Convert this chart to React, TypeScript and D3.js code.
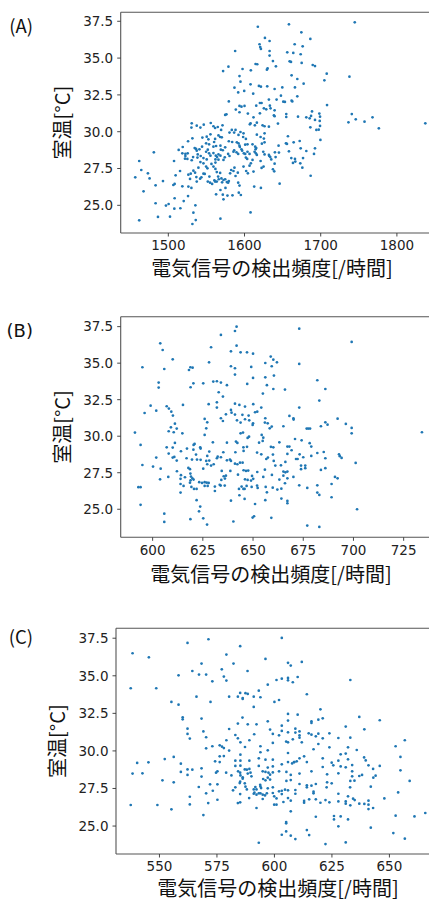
import React from 'react';
import * as d3 from 'd3';

// Panel A: [detection frequency (/h), room temperature (°C)]
const aPoints: [number, number][] = [
[1617.5,37.13],[1658.3,37.29],[1744.7,37.43],[1674.6,36.75],[1626.8,36.37],[1632.9,36.16],[1686.4,36.30],[1665.8,35.94],[1676.3,35.80],[1619.7,35.94],
[1620.6,35.75],[1621.5,35.62],[1587.7,35.48],[1632.9,35.48],[1632.9,35.17],[1656.1,35.39],[1664.0,35.35],[1673.7,35.26],[1637.3,34.80],[1659.2,34.78],
[1661.0,34.74],[1614.5,34.60],[1616.7,34.58],[1641.2,34.44],[1675.0,34.67],[1689.5,34.53],[1692.5,34.46],[1578.9,34.42],[1571.9,34.12],[1597.4,34.26],
[1608.3,34.17],[1630.3,34.30],[1629.4,34.21],[1707.9,33.94],[1704.8,33.49],[1737.7,33.74],[1593.4,33.78],[1594.7,33.40],[1661.8,33.83],[1669.3,33.58],
[1677.6,33.26],[1586.8,32.99],[1591.7,32.67],[1607.9,33.22],[1611.4,32.58],[1618.9,33.11],[1621.5,33.06],[1629.8,33.08],[1639.5,32.90],[1649.6,33.01],
[1666.2,33.01],[1599.6,32.77],[1647.8,32.45],[1669.3,32.40],[1579.4,32.06],[1593.4,31.75],[1596.0,31.70],[1600.0,31.75],[1620.2,31.95],[1622.4,31.95],
[1633.3,31.77],[1650.9,32.04],[1653.0,32.02],[1661.8,32.11],[1662.7,32.06],[1632.0,32.18],[1642.1,32.18],[1615.4,31.77],[1588.6,31.50],[1593.4,31.32],
[1625.4,31.59],[1634.2,31.59],[1639.5,31.45],[1628.5,31.52],[1708.3,31.81],[1688.6,31.38],[1687.3,31.07],[1698.2,31.23],[1699.1,31.02],[1576.3,31.18],
[1574.6,31.14],[1604.4,31.23],[1620.2,31.25],[1654.8,31.20],[1654.8,31.00],[1638.6,31.11],[1639.5,31.05],[1670.2,31.02],[1611.8,30.98],[1616.2,30.61],
[1607.9,30.57],[1607.0,30.50],[1613.6,30.43],[1623.7,30.43],[1626.3,30.37],[1632.0,30.34],[1643.9,30.55],[1685.5,30.91],[1692.5,30.80],[1698.7,30.73],
[1681.1,30.98],[1740.8,31.20],[1746.0,30.84],[1736.4,30.64],[1757.5,30.68],[1768.0,30.98],[1776.3,30.23],[1837.3,30.57],[1699.1,30.39],[1697.4,30.14],
[1686.4,30.30],[1694.3,30.12],[1530.7,30.57],[1537.3,30.41],[1546.5,30.48],[1555.7,30.59],[1530.3,30.28],[1542.1,30.28],[1559.2,30.37],[1561.4,30.25],
[1564.9,30.32],[1571.1,30.43],[1569.3,30.12],[1583.3,30.12],[1586.4,29.94],[1588.2,30.12],[1594.7,29.98],[1592.1,29.78],[1616.2,29.80],[1626.3,29.89],
[1621.1,29.64],[1625.4,29.53],[1598.7,29.89],[1598.2,29.64],[1601.8,29.51],[1565.8,29.75],[1568.0,29.64],[1570.2,29.62],[1561.4,29.51],[1560.1,29.30],
[1555.3,29.82],[1550.4,29.66],[1552.6,29.48],[1544.7,29.60],[1531.6,29.55],[1518.9,28.96],[1525.9,29.35],[1657.0,29.69],[1654.4,29.21],[1655.7,29.17],
[1664.5,29.28],[1672.4,29.37],[1699.6,29.44],[1579.4,29.35],[1583.8,29.30],[1589.9,29.28],[1592.1,29.21],[1593.4,29.05],[1600.9,29.12],[1603.9,29.14],
[1610.5,29.14],[1614.0,28.98],[1615.4,28.89],[1622.8,29.19],[1626.3,29.28],[1549.6,29.21],[1553.5,29.14],[1559.2,28.98],[1562.7,29.03],[1544.3,28.98],
[1534.6,28.89],[1536.4,28.83],[1537.3,28.71],[1513.6,28.76],[1518.4,28.53],[1522.4,28.35],[1522.4,28.49],[1521.9,28.17],[1525.0,28.15],[1530.7,28.06],
[1532.5,28.28],[1538.6,28.46],[1542.1,27.94],[1546.1,28.21],[1549.6,28.64],[1551.8,28.78],[1553.5,28.53],[1555.3,28.37],[1559.2,28.55],[1562.3,28.37],
[1564.0,28.28],[1565.8,28.46],[1561.8,28.12],[1565.8,28.10],[1568.4,28.37],[1571.5,28.74],[1578.5,28.49],[1580.3,28.35],[1574.1,28.26],[1572.4,28.08],
[1585.5,28.64],[1586.4,28.74],[1589.5,28.60],[1591.7,28.49],[1593.9,28.96],[1596.0,28.80],[1596.9,28.71],[1599.1,28.53],[1600.9,28.49],[1603.9,28.64],
[1606.6,28.49],[1601.8,28.24],[1603.5,28.15],[1613.2,28.64],[1614.9,28.53],[1616.2,28.42],[1614.5,28.80],[1624.6,28.64],[1626.3,28.46],[1632.0,28.42],
[1632.5,28.35],[1633.8,28.28],[1639.9,28.60],[1640.8,28.28],[1635.1,28.12],[1639.5,27.83],[1644.7,29.05],[1645.2,28.58],[1658.3,28.67],[1661.4,28.21],
[1666.2,28.15],[1663.6,27.88],[1666.7,27.97],[1676.8,28.21],[1673.2,27.85],[1675.9,27.56],[1681.1,28.69],[1673.7,28.87],[1692.5,28.87],[1691.2,28.49],
[1461.8,28.01],[1456.6,26.90],[1464.5,27.40],[1473.2,27.17],[1475.4,26.83],[1467.5,25.95],[1483.3,26.36],[1493.0,26.65],[1481.0,28.60],[1461.8,23.98],
[1483.3,25.14],[1486.4,24.21],[1496.9,24.98],[1500.4,25.09],[1502.2,24.23],[1508.3,25.48],[1507.9,24.77],[1515.8,24.80],[1520.2,25.29],[1525.9,25.63],
[1532.9,24.50],[1535.5,25.00],[1536.0,24.00],[1531.6,23.73],[1568.4,24.09],[1507.5,28.01],[1515.4,27.33],[1506.6,26.38],[1508.3,26.45],[1509.6,27.04],
[1518.4,26.29],[1526.3,26.27],[1526.3,27.08],[1529.4,27.15],[1528.5,26.79],[1530.3,26.18],[1532.9,27.35],[1535.1,27.22],[1536.8,26.92],[1537.3,26.61],
[1541.7,26.81],[1543.4,26.90],[1546.1,27.15],[1547.8,27.13],[1539.5,27.56],[1546.1,27.85],[1550.4,28.12],[1549.6,27.63],[1551.3,27.51],[1556.6,27.81],
[1559.2,27.63],[1561.8,27.90],[1561.8,27.47],[1563.6,27.26],[1565.4,26.95],[1566.2,26.77],[1553.9,26.95],[1551.8,26.61],[1554.8,26.54],[1557.5,26.45],
[1560.5,26.70],[1561.4,26.61],[1563.6,26.61],[1568.0,27.20],[1569.7,26.83],[1570.6,26.56],[1572.4,26.72],[1574.6,26.77],[1576.8,26.58],[1578.5,26.54],
[1579.4,26.65],[1581.1,27.17],[1582.5,27.40],[1585.5,27.33],[1586.8,27.56],[1588.2,26.99],[1591.2,27.22],[1591.7,26.54],[1593.4,26.34],[1592.5,25.86],
[1595.2,25.70],[1598.7,27.63],[1602.2,27.33],[1604.4,27.17],[1606.6,27.69],[1608.3,27.85],[1610.5,28.08],[1611.8,27.29],[1612.7,26.27],[1562.7,25.75],
[1568.4,26.04],[1571.5,25.72],[1572.4,25.41],[1577.6,25.66],[1584.2,25.68],[1575.0,26.18],[1607.9,24.52],[1621.5,26.18],[1622.4,27.54],[1625.0,27.63],
[1621.1,28.01],[1637.3,27.45],[1639.0,27.31],[1646.1,26.47],[1686.8,27.01],[1525.4,28.53],[1538.2,28.24],[1542.5,28.35],[1540.8,28.80],[1568.9,28.78],
[1574.6,28.94],[1568.4,29.05],[1580.3,29.94]
];

// Panel B
const bPoints: [number, number][] = [
[641.8,37.50],[641.0,37.20],[634.0,36.93],[603.8,36.36],[605.0,35.90],[641.8,36.20],[629.1,36.09],[639.0,35.81],[643.8,35.74],[647.0,35.74],
[650.0,35.65],[610.0,35.26],[628.1,35.06],[658.8,35.45],[660.1,35.24],[656.1,35.01],[594.9,34.72],[605.8,34.60],[618.1,34.53],[618.8,34.72],
[619.9,34.69],[639.0,34.79],[641.0,34.65],[649.1,34.74],[641.0,34.22],[659.3,34.79],[656.1,34.03],[650.0,33.99],[660.4,34.15],[603.0,33.67],
[603.0,33.33],[620.3,33.62],[618.9,33.35],[625.2,33.62],[630.2,33.74],[632.0,33.76],[634.0,33.67],[637.0,33.49],[647.1,33.58],[656.9,33.49],
[660.1,33.23],[632.9,33.01],[635.0,32.71],[654.9,32.92],[599.0,32.09],[596.0,31.59],[601.8,31.75],[607.0,32.05],[608.1,31.89],[609.3,31.68],
[610.1,31.41],[615.1,32.14],[627.9,32.19],[632.0,32.32],[632.0,31.96],[641.0,32.23],[643.2,32.14],[646.0,32.03],[650.1,32.19],[639.0,31.80],
[639.3,31.61],[641.0,31.48],[644.7,31.46],[647.8,31.41],[651.0,31.64],[652.1,31.68],[654.1,31.96],[636.5,31.50],[634.0,31.23],[635.0,31.04],
[642.0,31.09],[643.8,30.93],[646.0,31.16],[648.1,31.09],[650.0,30.88],[649.8,30.77],[656.1,31.23],[655.9,30.93],[657.3,30.88],[658.3,30.54],
[659.3,30.66],[625.9,31.18],[627.2,30.95],[626.7,30.54],[625.9,30.09],[611.1,30.86],[612.0,30.52],[609.1,30.61],[608.0,30.34],[610.5,30.27],
[614.8,30.20],[591.2,30.25],[594.0,29.40],[607.0,29.24],[611.1,29.54],[610.0,29.22],[608.0,28.81],[610.8,28.58],[610.0,28.54],[612.0,28.33],
[614.1,28.97],[617.1,29.15],[620.4,29.40],[620.9,29.47],[620.3,29.08],[623.7,29.24],[623.9,29.15],[621.6,28.74],[622.1,28.40],[623.9,28.38],
[628.2,28.95],[627.2,28.65],[626.7,28.31],[628.2,28.33],[630.0,29.58],[637.0,29.56],[641.5,29.63],[642.2,29.54],[641.2,28.90],[645.3,28.99],
[645.2,29.24],[647.0,29.27],[643.8,30.20],[645.0,30.25],[648.0,29.97],[647.3,29.88],[632.4,28.60],[632.0,28.49],[634.0,28.56],[637.0,28.35],
[638.5,28.40],[639.0,28.31],[635.2,28.90],[653.0,29.56],[654.8,29.68],[655.1,29.90],[654.3,30.09],[652.0,28.88],[654.1,28.76],[656.6,28.44],
[657.4,28.54],[659.9,28.74],[660.3,28.31],[658.9,29.27],[660.1,29.24],[616.9,28.49],[619.6,28.40],[594.9,28.03],[600.2,27.92],[601.8,28.54],
[604.0,27.78],[607.8,27.21],[612.1,27.60],[614.1,27.33],[613.9,27.08],[616.1,27.19],[618.8,27.44],[618.6,27.74],[617.8,27.83],[619.1,27.24],
[619.8,27.12],[618.9,26.98],[618.6,26.82],[620.4,27.03],[623.2,26.85],[624.6,26.80],[625.9,26.85],[626.9,26.82],[627.9,26.80],[627.4,26.60],
[625.2,27.78],[627.2,28.08],[629.1,27.99],[630.4,28.08],[634.4,27.62],[635.4,27.26],[636.5,27.30],[636.0,27.10],[634.2,27.01],[638.7,27.62],
[641.0,28.12],[642.2,28.08],[643.5,28.19],[644.8,28.19],[642.5,27.37],[645.3,27.67],[646.5,27.62],[647.6,27.65],[649.5,27.28],[650.1,27.08],
[649.0,26.96],[652.1,27.55],[655.1,27.21],[655.9,27.71],[659.4,27.35],[646.0,27.05],[647.3,27.01],[603.7,27.05],[592.9,26.51],[594.0,26.51],
[613.9,26.73],[615.4,26.60],[619.3,26.53],[620.6,26.39],[621.9,26.39],[625.9,26.60],[631.0,26.55],[631.0,26.25],[633.4,26.67],[633.9,26.62],
[635.9,26.62],[643.0,26.39],[644.3,26.55],[645.2,26.39],[645.8,26.39],[646.8,26.60],[649.3,26.53],[652.0,26.62],[652.3,26.46],[656.3,26.53],
[656.9,26.16],[659.8,26.48],[613.9,26.14],[643.2,25.96],[645.8,25.71],[639.0,25.59],[621.9,25.62],[623.1,24.86],[623.7,25.18],[594.0,25.30],
[605.8,24.70],[605.8,24.13],[618.8,24.32],[625.2,24.38],[627.1,23.95],[640.2,24.16],[651.0,25.36],[650.5,24.52],[649.8,24.43],[656.1,25.62],
[659.1,24.41],[661.1,27.99],[673.0,37.36],[699.1,36.45],[661.9,35.06],[673.0,34.95],[682.0,33.83],[665.9,33.19],[686.0,33.23],[683.0,32.44],
[673.0,31.96],[668.1,31.39],[670.1,31.23],[670.2,31.14],[692.1,31.20],[686.0,30.95],[687.1,30.79],[683.8,30.68],[696.2,30.84],[699.1,30.57],
[699.1,30.20],[665.1,30.68],[676.7,30.52],[677.5,30.52],[678.4,30.52],[734.1,30.27],[670.9,29.81],[674.2,29.72],[663.1,29.58],[678.2,29.52],
[679.0,29.29],[667.1,29.29],[668.1,29.29],[669.2,29.04],[667.1,28.79],[673.2,28.76],[675.0,28.56],[671.4,28.44],[672.2,28.44],[679.0,28.65],
[682.0,28.85],[685.2,28.92],[686.0,28.49],[692.8,28.76],[693.2,28.63],[694.1,28.51],[663.9,28.01],[666.1,28.24],[673.9,27.99],[673.9,27.74],
[676.0,27.99],[676.0,27.81],[683.8,27.69],[686.0,27.81],[701.1,28.17],[665.1,27.58],[666.1,27.53],[667.1,27.58],[663.1,27.03],[665.1,27.30],
[667.1,27.12],[670.1,27.21],[690.8,27.21],[692.1,27.12],[665.9,26.78],[673.0,26.64],[682.0,26.64],[689.1,26.73],[662.1,26.35],[664.1,26.41],
[677.0,26.46],[682.0,26.14],[683.0,25.98],[689.1,25.82],[664.1,25.73],[667.1,25.57],[667.1,25.41],[701.8,25.00],[677.0,23.88],[683.0,23.79]
];

// Panel C
const cPoints: [number, number][] = [
[571.3,37.43],[562.2,37.19],[538.3,36.50],[545.4,36.23],[585.1,36.97],[579.1,36.41],[596.1,36.12],[568.3,35.81],[582.2,35.81],[577.1,35.43],
[564.3,35.32],[567.2,35.08],[570.3,35.08],[588.3,35.32],[558.3,35.03],[578.0,34.95],[579.1,34.68],[573.0,34.63],[597.1,34.41],[537.5,34.17],
[548.6,34.17],[593.2,34.01],[585.1,33.86],[587.4,33.84],[588.4,33.79],[584.1,33.61],[586.2,33.52],[586.2,33.46],[591.0,33.61],[593.9,33.57],
[580.3,33.61],[566.1,33.61],[555.2,33.26],[558.3,33.08],[572.2,33.26],[591.0,32.93],[560.1,32.24],[560.1,32.10],[568.3,32.15],[586.1,32.22],
[584.1,31.82],[588.4,31.77],[592.2,31.77],[597.1,31.97],[562.2,31.48],[562.2,31.13],[563.2,30.82],[569.1,31.30],[580.3,31.46],[570.3,30.91],
[583.0,31.06],[584.1,30.84],[591.2,31.11],[579.1,30.71],[585.2,30.57],[589.1,30.71],[570.3,30.17],[573.0,30.31],[576.2,30.37],[577.2,30.28],
[578.0,30.19],[580.3,30.02],[587.2,30.26],[593.9,30.31],[597.1,30.04],[593.9,29.91],[585.2,29.75],[576.2,29.64],[578.0,29.66],[574.2,29.31],
[576.2,29.26],[583.0,29.35],[585.2,29.35],[589.1,29.35],[593.2,29.51],[596.1,29.42],[583.0,29.00],[585.2,29.02],[587.1,28.77],[588.0,28.75],
[589.1,28.80],[593.2,29.00],[597.1,28.89],[594.9,28.64],[596.1,28.60],[597.4,28.55],[597.1,28.22],[574.6,28.55],[575.2,28.64],[579.0,28.55],
[581.3,28.37],[584.2,28.64],[585.1,28.55],[585.2,28.37],[586.2,28.24],[586.2,28.15],[588.4,28.49],[590.0,28.31],[589.6,28.55],[585.1,27.95],
[584.9,27.86],[583.0,27.58],[582.0,27.38],[587.1,27.84],[587.4,27.62],[588.0,27.44],[591.0,27.44],[591.3,27.22],[591.7,27.60],[592.2,27.44],
[593.8,27.75],[593.9,27.64],[594.2,27.53],[595.1,28.13],[596.1,28.04],[585.1,27.13],[589.0,26.86],[584.1,26.53],[585.1,26.58],[591.0,27.15],
[592.2,27.09],[593.2,27.18],[593.9,27.18],[594.9,27.09],[594.9,26.80],[595.9,27.04],[596.7,27.18],[597.1,27.51],[592.2,26.20],[593.2,23.89],
[540.3,29.20],[545.2,29.24],[538.3,28.49],[542.6,28.51],[552.3,29.46],[556.2,29.60],[559.3,29.15],[559.3,28.60],[562.2,28.77],[564.3,28.75],
[562.2,28.40],[568.3,28.84],[568.3,28.29],[551.3,28.04],[556.2,27.91],[567.1,27.60],[572.0,27.78],[575.2,27.78],[573.2,27.35],[570.3,27.18],
[563.2,26.95],[563.2,26.44],[571.2,26.53],[575.2,26.75],[537.5,26.40],[549.1,26.40],[555.2,26.11],[569.1,25.73],
[603.2,37.52],[605.9,35.86],[607.1,35.68],[611.9,35.92],[600.9,34.72],[603.2,34.81],[605.9,34.86],[605.9,34.70],[608.0,34.57],[610.1,34.92],
[633.0,34.72],[614.1,33.77],[600.0,33.26],[602.0,33.39],[620.0,32.77],[605.9,32.46],[610.1,32.41],[605.9,32.02],[603.2,31.68],[603.2,31.33],
[616.1,31.97],[616.1,31.86],[619.1,32.08],[621.0,32.17],[636.9,32.26],[645.8,32.04],[631.0,31.62],[639.1,31.44],[598.1,31.42],[599.3,31.13],
[602.0,31.04],[605.9,31.24],[609.1,31.48],[609.1,31.22],[610.9,31.30],[610.9,31.04],[610.9,30.88],[614.9,31.17],[616.1,31.08],[619.1,31.15],
[618.0,30.97],[623.9,31.17],[621.0,30.84],[605.1,30.62],[605.9,30.57],[608.0,30.77],[611.9,30.57],[627.8,30.86],[633.0,30.88],[599.3,30.53],
[619.1,30.46],[617.0,30.11],[623.9,30.24],[632.0,30.24],[635.8,30.06],[605.9,29.86],[612.9,29.64],[610.9,29.51],[608.5,29.26],[652.7,30.31],
[656.7,30.71],[654.8,29.60],[654.8,28.71],[658.8,28.00],[653.8,27.24],[599.3,29.42],[603.2,29.11],[605.9,29.26],[607.7,29.17],[608.7,29.26],
[609.7,29.31],[614.1,29.26],[616.1,28.64],[621.0,29.51],[621.0,28.93],[624.9,29.22],[625.6,29.04],[627.8,29.35],[628.8,29.77],[631.0,29.82],
[632.0,29.44],[633.8,29.06],[628.8,28.97],[631.0,28.91],[639.0,29.57],[639.7,29.37],[640.9,29.04],[645.8,29.00],[642.9,28.80],[599.3,28.97],
[598.1,28.42],[599.3,28.57],[602.0,28.64],[605.2,28.60],[607.1,28.40],[607.1,28.06],[605.2,28.00],[610.9,28.49],[622.9,28.44],[627.8,28.51],
[633.8,28.64],[633.8,28.31],[633.0,28.00],[636.9,28.33],[638.1,28.40],[641.9,27.62],[643.0,28.22],[644.0,28.35],[598.1,28.09],[599.3,27.58],
[599.3,27.20],[599.9,26.98],[602.0,27.31],[603.2,27.35],[603.2,27.13],[604.6,27.42],[605.9,27.38],[605.9,26.86],[607.1,26.69],[609.1,27.40],
[609.1,27.15],[610.9,27.80],[614.1,27.71],[614.1,27.58],[616.1,27.69],[618.0,27.80],[622.9,27.91],[624.9,27.84],[622.7,27.58],[617.0,27.29],
[617.0,27.18],[600.9,26.84],[600.9,26.42],[599.9,26.42],[603.9,26.60],[612.9,26.67],[612.9,26.55],[615.1,26.78],[618.0,26.78],[620.0,26.55],
[622.2,26.73],[623.9,26.58],[627.8,27.15],[627.8,26.64],[631.0,26.64],[631.0,26.49],[632.0,26.98],[633.0,26.38],[632.9,27.58],[634.8,28.02],
[634.2,26.82],[634.9,26.73],[636.9,26.49],[639.1,26.47],[640.9,26.69],[640.9,26.42],[640.9,26.13],[642.9,26.20],[647.8,26.84],[607.1,25.98],
[605.1,25.27],[605.1,25.18],[618.0,25.62],[625.9,25.67],[625.9,25.44],[628.8,25.64],[632.0,25.44],[627.8,24.98],[641.9,24.89],[652.7,25.69],
[660.9,25.64],[665.6,25.87],[605.1,24.64],[603.2,24.42],[607.1,24.36],[609.1,24.13],[614.1,24.73],[615.1,24.40],[622.2,23.80],[631.0,23.91],
[651.7,24.53],[656.7,24.16]
];

const yTicks = [25.0, 27.5, 30.0, 32.5, 35.0, 37.5];
const aXTicks = [1500, 1600, 1700, 1800];
const bXTicks = [600, 625, 650, 675, 700, 725];
const cXTicks = [550, 575, 600, 625, 650];

const panelLabels = ['(A)', '(B)', '(C)'];
const xLabelText = '電気信号の検出頻度[/時間]';
const yLabelText = '室温[°C]';

const W = 429;
const H = 899;
const DOT = '#1f77b4';
const JP = '"Noto Sans CJK JP", "Noto Sans CJK SC", sans-serif';
const TICKFONT = '"DejaVu Sans", sans-serif';

interface PanelCfg {
  label: string;
  labelFont: string;
  labelSize: number;
  labelY: number;
  points: [number, number][];
  xTicks: number[];
  xDomain: [number, number];
  yDomain: [number, number];
  left: number;
  right: number;
  top: number;
  bottom: number;
  xLabelX: number;
  xLabelY: number;
  yLabelX: number;
}

const panels: PanelCfg[] = [
  { label: panelLabels[0], labelFont: JP, labelSize: 18.5, labelY: 32.5, points: aPoints, xTicks: aXTicks,
    xDomain: [1437.5, 1856.3], yDomain: [23.12, 38.11], left: 120.7, right: 439.8, top: 12.3, bottom: 233,
    xLabelX: 272, xLabelY: 276, yLabelX: 70 },
  { label: panelLabels[1], labelFont: TICKFONT, labelSize: 18, labelY: 336.5, points: bPoints, xTicks: bXTicks,
    xDomain: [584.1, 741.2], yDomain: [23.08, 38.18], left: 120.7, right: 436.2, top: 316.7, bottom: 537.3,
    xLabelX: 271, xLabelY: 581.5, yLabelX: 70 },
  { label: panelLabels[2], labelFont: JP, labelSize: 18.5, labelY: 643.5, points: cPoints, xTicks: cXTicks,
    xDomain: [531.1, 672.0], yDomain: [23.14, 38.16], left: 116, right: 440, top: 628.3, bottom: 854,
    xLabelX: 278, xLabelY: 895.5, yLabelX: 64.5 },
];

function Panel({ p }: { p: PanelCfg }) {
  const x = d3.scaleLinear().domain(p.xDomain).range([p.left, p.right]);
  const y = d3.scaleLinear().domain(p.yDomain).range([p.bottom, p.top]);
  const fmtY = d3.format('.1f');
  const midY = (p.top + p.bottom) / 2;
  const spine = '#555';
  return (
    <g>
      <text x={33} y={p.labelY} textAnchor="end" fontFamily={p.labelFont} fontSize={p.labelSize} fill="#111">{p.label}</text>
      {p.points.map((d, i) => (
        <circle key={i} cx={x(d[0])} cy={y(d[1])} r={1.35} fill={DOT} />
      ))}
      <line x1={p.left} x2={p.right} y1={p.top} y2={p.top} stroke={spine} strokeWidth={1.1} />
      <line x1={p.left} x2={p.right} y1={p.bottom} y2={p.bottom} stroke={spine} strokeWidth={1.1} />
      <line x1={p.left} x2={p.left} y1={p.top} y2={p.bottom} stroke={spine} strokeWidth={1.1} />
      <line x1={p.right} x2={p.right} y1={p.top} y2={p.bottom} stroke={spine} strokeWidth={1.1} />
      {yTicks.map((t) => (
        <g key={'y' + t}>
          <line x1={p.left - 3.5} x2={p.left} y1={y(t)} y2={y(t)} stroke="#333" strokeWidth={0.9} />
          <text x={p.left - 7.5} y={y(t)} dy="0.36em" textAnchor="end" fontFamily={TICKFONT} fontSize={13.5} fill="#222">{fmtY(t)}</text>
        </g>
      ))}
      {p.xTicks.map((t) => (
        <g key={'x' + t}>
          <line x1={x(t)} x2={x(t)} y1={p.bottom} y2={p.bottom + 3.5} stroke="#333" strokeWidth={0.9} />
          <text x={x(t)} y={p.bottom + 17.2} textAnchor="middle" fontFamily={TICKFONT} fontSize={13.5} fill="#222">{t}</text>
        </g>
      ))}
      <text x={p.xLabelX} y={p.xLabelY} textAnchor="middle" fontFamily={JP} fontSize={20} fill="#111">{xLabelText}</text>
      <text transform={`translate(${p.yLabelX},${midY}) rotate(-90)`} textAnchor="middle" fontFamily={JP} fontSize={20} fill="#111">{yLabelText}</text>
    </g>
  );
}

export default function App() {
  return (
    <svg width={W} height={H} viewBox={`0 0 ${W} ${H}`} style={{ position: 'absolute', left: 0, top: 0, background: '#fff' }}>
      <rect x={0} y={0} width={W} height={H} fill="#fff" />
      {panels.map((p, i) => <Panel key={i} p={p} />)}
    </svg>
  );
}
